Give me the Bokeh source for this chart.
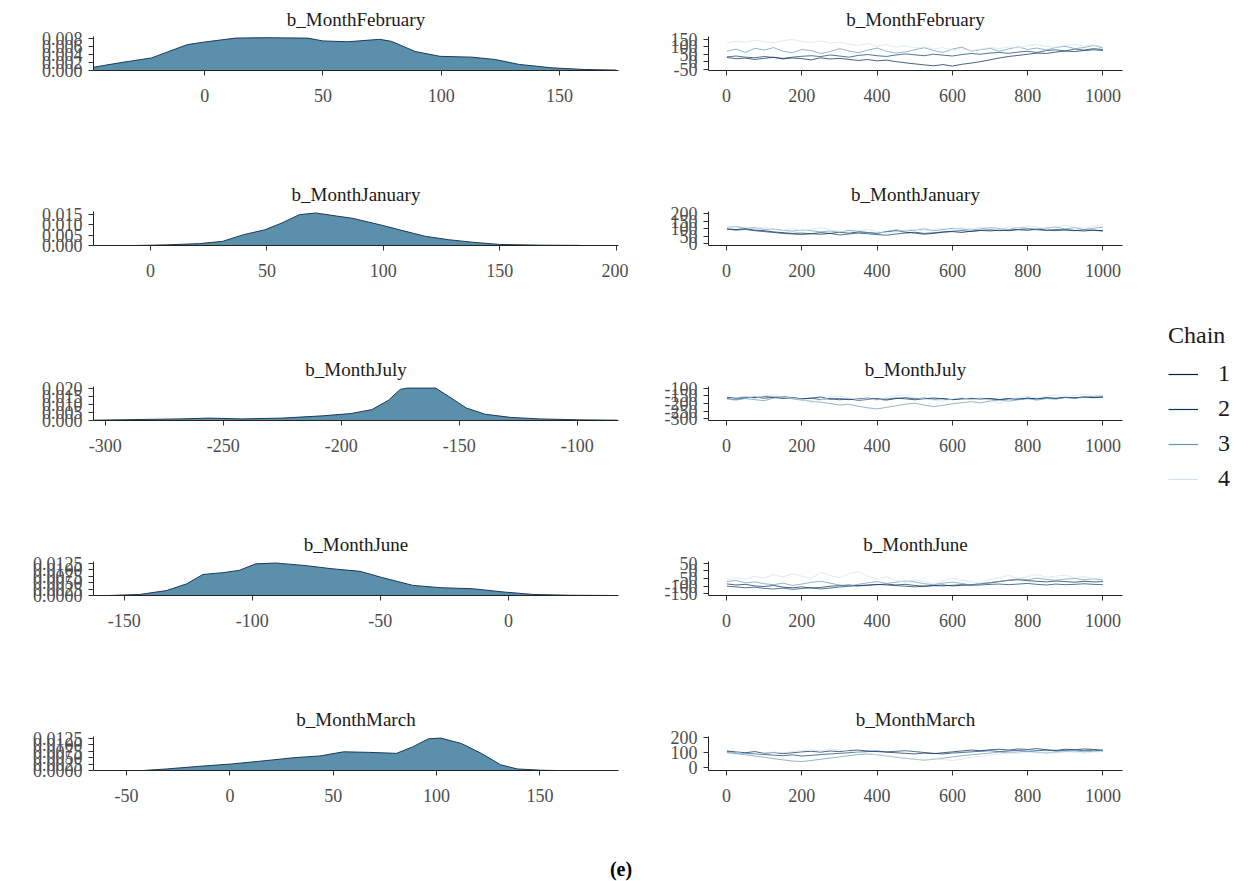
from bokeh.plotting import figure
from bokeh.layouts import row, column
from bokeh.models import FixedTicker, NumeralTickFormatter, Range1d, Legend, LegendItem, Div
from bokeh.embed import file_html
from bokeh.resources import INLINE

params = ["b_MonthFebruary", "b_MonthJanuary", "b_MonthJuly", "b_MonthJune", "b_MonthMarch"]

# ---- density curves ----
feb_x = [-47, -36, -22.5, -7.3, -0.5, 13, 25, 43.6, 50, 60.5, 74, 79, 89, 99.5, 113, 123, 133, 147, 160.5, 174]
feb_d = [0.0008, 0.0019, 0.0031, 0.0064, 0.0070, 0.0080, 0.0081, 0.0080, 0.0073, 0.0071, 0.0077, 0.0072,
         0.0047, 0.0035, 0.0033, 0.0027, 0.0015, 0.00065, 0.00025, 0.0001]
jan_x = [-6.6, 7, 21, 31, 40, 49, 56, 64, 71, 80, 87, 99, 107, 118, 128, 138, 150, 168, 185]
jan_d = [0.0, 0.0003, 0.0009, 0.002, 0.0052, 0.0075, 0.0106, 0.0148, 0.0156, 0.0141, 0.013, 0.0098,
         0.0075, 0.0044, 0.0028, 0.0016, 0.0005, 0.00015, 0.00005]
jul_x = [-305, -268, -256, -242, -225, -208, -196, -187, -180, -175, -172, -160, -154, -147, -139, -128, -116, -99, -83]
jul_d = [0.0002, 0.0010, 0.0015, 0.0010, 0.0015, 0.0029, 0.0043, 0.0068, 0.0126, 0.0194, 0.0202, 0.0202,
         0.0146, 0.0078, 0.0039, 0.0019, 0.0010, 0.0004, 0.0002]
jun_x = [-156, -144, -133.5, -125.6, -119.3, -111.4, -105, -98.7, -90.9, -79.8, -68.8, -57.8, -50, -37.3,
         -26.3, -13.9, -1.3, 9.8, 24, 40]
jun_d = [0.0, 0.0004, 0.0019, 0.0045, 0.0081, 0.0088, 0.0097, 0.0122, 0.0125, 0.0116, 0.0103, 0.0093,
         0.0071, 0.0039, 0.0030, 0.0026, 0.0013, 0.0004, 0.0001, 0.0]
mar_x = [-42, -30.6, -15, 0.6, 16, 32, 43.5, 55, 67, 80.6, 88.4, 96, 102, 112, 121.6, 131, 139, 151, 158]
mar_d = [0.0, 0.0006, 0.0016, 0.0025, 0.0037, 0.005, 0.0056, 0.0072, 0.007, 0.0066, 0.0091, 0.0122,
         0.0125, 0.0104, 0.0066, 0.0022, 0.0006, 0.0001, 0.0]

dens_x = [feb_x, jan_x, jul_x, jun_x, mar_x]
dens_d = [feb_d, jan_d, jul_d, jun_d, mar_d]
dens_xrange = [(-47, 175), (-24.5, 201), (-305, -82.5), (-162, 43), (-66, 188)]
dens_xticks = [[0, 50, 100, 150], [0, 50, 100, 150, 200], [-300, -250, -200, -150, -100],
               [-150, -100, -50, 0], [-50, 0, 50, 100, 150]]
dens_ytop = [0.0084, 0.0163, 0.0212, 0.0131, 0.0131]
dens_yticks = [[0, 0.002, 0.004, 0.006, 0.008], [0, 0.005, 0.010, 0.015], [0, 0.005, 0.010, 0.015, 0.020],
               [0, 0.0025, 0.005, 0.0075, 0.01, 0.0125], [0, 0.0025, 0.005, 0.0075, 0.01, 0.0125]]
dens_yfmt = ["0.000", "0.000", "0.000", "0.0000", "0.0000"]

# ---- trace values, 4 chains each ----
iters = [1, 25, 50, 75, 100, 125, 150, 175, 200, 225, 250, 275, 300, 325, 350, 375, 400, 425, 450, 475,
         500, 525, 550, 575, 600, 625, 650, 675, 700, 725, 750, 775, 800, 825, 850, 875, 900, 925, 950, 975, 1000]
chains = ["1", "2", "3", "4"]
feb_tr = [
    [28, 20, 24, 15, 22, 30, 18, 25, 20, 12, 26, 18, 22, 15, 8, 14, 5, 10, 0, -8, -15, -22, -28, -20, -30, -18,
     -10, 0, 12, 25, 35, 42, 50, 58, 55, 65, 72, 68, 75, 80, 76],
    [32, 38, 30, 26, 35, 28, 22, 30, 36, 40, 34, 45, 38, 30, 42, 48, 40, 35, 45, 52, 46, 40, 50, 44, 38, 48,
     55, 50, 58, 62, 56, 65, 70, 62, 75, 80, 72, 85, 78, 88, 82],
    [70, 85, 62, 90, 78, 95, 70, 60, 82, 75, 55, 68, 88, 72, 60, 78, 92, 70, 58, 66, 80, 94, 75, 62, 85, 98,
     72, 80, 90, 70, 86, 100, 82, 92, 78, 96, 104, 88, 95, 110, 92],
    [125, 138, 130, 145, 135, 128, 142, 150, 136, 130, 140, 125, 132, 118, 110, 122, 105, 115, 98, 108, 92,
     100, 85, 95, 78, 88, 72, 84, 95, 88, 100, 92, 108, 115, 102, 96, 110, 118, 105, 112, 100],
]
jan_tr = [
    [100, 95, 102, 92, 88, 80, 75, 70, 72, 68, 75, 70, 78, 72, 80, 76, 70, 82, 88, 78, 72, 65, 70, 78, 82, 76,
     85, 90, 86, 92, 88, 95, 90, 98, 92, 88, 95, 90, 86, 92, 88],
    [98, 92, 96, 88, 82, 76, 70, 66, 62, 68, 64, 70, 60, 66, 72, 68, 62, 58, 66, 72, 78, 70, 74, 80, 84, 88,
     82, 90, 94, 88, 92, 96, 100, 94, 90, 96, 92, 88, 94, 90, 86],
    [110, 115, 104, 108, 96, 100, 90, 85, 92, 88, 80, 86, 78, 90, 84, 76, 70, 82, 94, 86, 92, 100, 88, 95,
     104, 98, 92, 100, 108, 102, 96, 110, 104, 98, 106, 112, 100, 108, 96, 104, 112],
    [105, 118, 110, 100, 112, 95, 90, 102, 86, 96, 110, 92, 84, 78, 88, 96, 82, 72, 80, 92, 98, 86, 94, 104,
     96, 108, 100, 112, 104, 96, 115, 108, 120, 112, 100, 116, 124, 110, 104, 118, 130],
]
jul_tr = [
    [-160, -165, -158, -162, -155, -160, -168, -163, -170, -165, -158, -172, -168, -175, -170, -165, -172,
     -178, -168, -162, -170, -165, -172, -168, -175, -170, -166, -172, -168, -175, -170, -172, -166, -170,
     -164, -168, -160, -164, -158, -162, -156],
    [-168, -172, -164, -158, -166, -160, -155, -162, -170, -166, -174, -168, -176, -170, -180, -174, -168,
     -172, -165, -170, -176, -170, -164, -170, -175, -168, -172, -166, -170, -174, -168, -172, -165, -170,
     -162, -166, -160, -163, -158, -162, -160],
    [-172, -178, -168, -175, -182, -165, -160, -170, -178, -185, -192, -200, -210, -205, -218, -228, -235,
     -225, -215, -205, -198, -210, -220, -212, -202, -195, -188, -196, -184, -178, -185, -176, -170, -178,
     -168, -172, -162, -168, -158, -154, -150],
    [-175, -162, -155, -168, -150, -145, -158, -165, -172, -195, -178, -160, -152, -165, -175, -168, -180,
     -160, -150, -145, -162, -170, -178, -185, -170, -162, -175, -168, -180, -200, -178, -160, -155, -165,
     -150, -145, -155, -148, -140, -150, -145],
]
jun_tr = [
    [-85, -92, -88, -98, -102, -95, -106, -110, -104, -112, -108, -100, -96, -92, -98, -94, -90, -86, -92,
     -88, -95, -100, -96, -92, -98, -94, -90, -84, -78, -70, -62, -58, -64, -68, -72, -66, -70, -74, -68,
     -72, -70],
    [-100, -104, -110, -106, -114, -118, -112, -120, -115, -110, -118, -112, -105, -100, -96, -92, -88, -92,
     -96, -100, -104, -100, -96, -98, -94, -90, -94, -92, -88, -86, -90, -86, -82, -88, -92, -86, -90, -88,
     -84, -88, -90],
    [-70, -62, -78, -72, -84, -90, -80, -95, -86, -75, -68, -80, -92, -100, -88, -78, -70, -82, -74, -66,
     -72, -84, -90, -80, -74, -82, -92, -86, -76, -68, -60, -52, -58, -48, -56, -62, -54, -50, -58, -52, -60],
    [-60, -45, -55, -35, -48, -25, -40, -20, -35, -50, -10, -30, -45, -20, -5, -35, -55, -40, -62, -75, -58,
     -70, -85, -65, -50, -60, -72, -80, -55, -45, -30, -50, -38, -25, -42, -35, -28, -45, -38, -50, -45],
]
mar_tr = [
    [112, 106, 100, 108, 96, 102, 94, 100, 106, 110, 104, 112, 108, 115, 118, 112, 108, 104, 100, 96, 92,
     98, 94, 100, 106, 112, 118, 114, 120, 124, 118, 126, 122, 128, 120, 116, 124, 120, 126, 122, 118],
    [106, 100, 96, 92, 88, 84, 80, 86, 78, 82, 88, 92, 96, 100, 104, 108, 112, 106, 110, 114, 108, 102, 96,
     92, 98, 102, 106, 110, 114, 108, 112, 116, 110, 114, 118, 112, 116, 120, 114, 118, 112],
    [100, 94, 86, 78, 70, 60, 52, 44, 40, 48, 56, 64, 72, 80, 88, 92, 86, 78, 70, 62, 56, 50, 56, 64, 72,
     80, 86, 92, 98, 104, 100, 106, 110, 104, 98, 104, 108, 112, 106, 110, 114],
    [96, 104, 92, 88, 98, 104, 100, 108, 114, 120, 112, 126, 118, 110, 102, 96, 88, 80, 72, 64, 58, 52, 60,
     54, 48, 56, 68, 76, 84, 92, 100, 96, 104, 98, 106, 100, 108, 102, 96, 104, 108],
]
traces = [feb_tr, jan_tr, jul_tr, jun_tr, mar_tr]
trace_yrange = [(-60, 170), (-10, 215), (-310, -90), (-160, 60), (-20, 210)]
trace_yticks = [[-50, 0, 50, 100, 150], [0, 50, 100, 150, 200], [-300, -250, -200, -150, -100],
                [-150, -100, -50, 0, 50], [0, 100, 200]]
trace_xticks = [0, 200, 400, 600, 800, 1000]

chain_colors = ["#011f4b", "#03396c", "#6497b1", "#d1e1ec"]
FILL = "#5b90ad"
OUTLINE = "#1d3b55"
FONT = "Liberation Serif"

TOP = 36
FRAME_H = 34
BOTTOM = 105
LAST_BOTTOM = 50


def style(p, title):
    p.title.text = title
    p.title.align = "center"
    p.title.text_font = FONT
    p.title.text_font_size = "19px"
    p.title.text_font_style = "normal"
    p.title.text_color = "#1a1a1a"
    p.title.standoff = 13
    p.grid.visible = False
    p.outline_line_color = None
    for ax in p.axis:
        ax.axis_line_color = "#222222"
        ax.axis_line_width = 1
        ax.major_tick_line_color = "#333333"
        ax.major_tick_out = 5
        ax.major_tick_in = 0
        ax.minor_tick_out = 0
        ax.minor_tick_in = 0
        ax.major_label_text_font = FONT
        ax.major_label_text_font_size = "18px"
        ax.major_label_text_color = "#4d4d4d"
    p.xaxis.major_label_standoff = 13
    p.yaxis.major_label_standoff = 6


rows = []
for i, name in enumerate(params):
    bottom = BOTTOM if i < 4 else LAST_BOTTOM
    # density panel
    pl = figure(frame_width=525, frame_height=FRAME_H, min_border_left=93, min_border_right=10,
                min_border_top=TOP, min_border_bottom=bottom, toolbar_location=None,
                output_backend="svg", x_range=Range1d(*dens_xrange[i]),
                y_range=Range1d(0, dens_ytop[i]))
    pl.varea(x=dens_x[i], y1=[0] * len(dens_x[i]), y2=dens_d[i], fill_color=FILL)
    pl.line(dens_x[i], dens_d[i], line_color=OUTLINE, line_width=1)
    style(pl, name)
    pl.xaxis.ticker = FixedTicker(ticks=dens_xticks[i])
    pl.yaxis.ticker = FixedTicker(ticks=dens_yticks[i])
    pl.yaxis.formatter = NumeralTickFormatter(format=dens_yfmt[i])
    pl.xaxis.formatter = NumeralTickFormatter(format="0")

    # trace panel
    pr = figure(frame_width=414, frame_height=FRAME_H, min_border_left=80, min_border_right=10,
                min_border_top=TOP, min_border_bottom=bottom, toolbar_location=None,
                output_backend="svg", x_range=Range1d(-48, 1052),
                y_range=Range1d(*trace_yrange[i]))
    for c in range(4):
        pr.line(iters, traces[i][c], line_color=chain_colors[c], line_width=0.7)
    style(pr, name)
    pr.xaxis.ticker = FixedTicker(ticks=trace_xticks)
    pr.yaxis.ticker = FixedTicker(ticks=trace_yticks[i])
    pr.xaxis.formatter = NumeralTickFormatter(format="0")
    pr.yaxis.formatter = NumeralTickFormatter(format="0")
    rows.append(row(pl, pr))

grid_h = 4 * (TOP + FRAME_H + BOTTOM) + (TOP + FRAME_H + LAST_BOTTOM)

lf = figure(frame_width=108, frame_height=grid_h, min_border=0, toolbar_location=None,
            output_backend="svg", x_range=Range1d(0, 1), y_range=Range1d(0, 1),
            x_axis_type=None, y_axis_type=None)
lf.grid.visible = False
lf.outline_line_color = None
rends = [lf.line([5, 6], [5, 6], line_color=chain_colors[c], line_width=1.2) for c in range(4)]
legend = Legend(items=[LegendItem(label=chains[c], renderers=[rends[c]]) for c in range(4)],
                location=(36, 328), title="Chain",
                title_text_font=FONT, title_text_font_size="24px", title_text_color="#1a1a1a",
                title_text_font_style="normal", title_standoff=11,
                label_text_font=FONT, label_text_font_size="24px", label_text_color="#1a1a1a",
                glyph_width=30, glyph_height=20, label_height=20, spacing=8, label_standoff=20,
                padding=0, margin=0, border_line_color=None, background_fill_alpha=0)
lf.add_layout(legend)

cap = Div(text="(e)", width=1232, height=50,
          styles={"text-align": "center", "font-family": FONT, "font-size": "20px",
                  "font-weight": "bold", "padding-top": "30px", "box-sizing": "border-box"})

layout = column(row(column(*rows), lf), cap)

with open("out.html", "w") as f:
    f.write(file_html(layout, INLINE))
